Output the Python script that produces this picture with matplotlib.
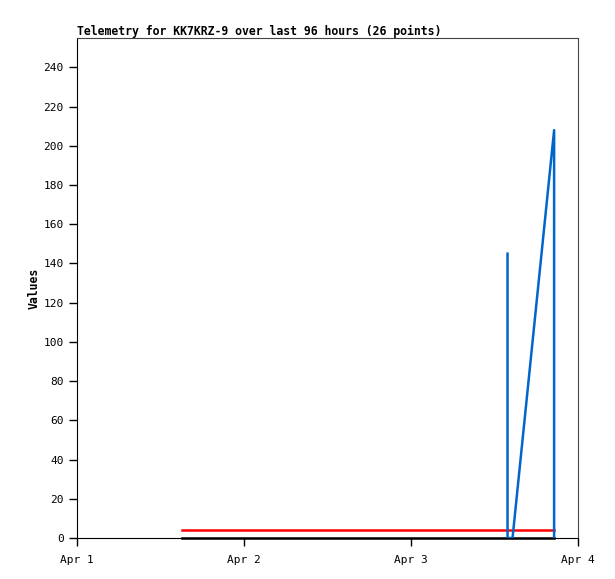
import numpy as np
import matplotlib.pyplot as plt

# days since Apr 1 00:00
black_t = [0.63, 2.857]
black_v = [0, 0]
red_t = [0.63, 2.857]
red_v = [4, 4]
blue_t = [2.578, 2.578, 2.608, 2.857, 2.857]
blue_v = [145, 0, 0, 208, 0]

day_ticks = [0, 1, 2, 3]
day_labels = ["Apr 1", "Apr 2", "Apr 3", "Apr 4"]

plt.rcParams['font.family'] = ['DejaVu Sans Mono']

fig = plt.figure(figsize=(6.15, 5.79), dpi=100)
ax = fig.add_axes([77/615, 41/579, 501/615, 500/579])

ax.plot(black_t, black_v, color='black', lw=1.8, clip_on=False, zorder=2)
ax.plot(red_t, red_v, color='#ff0000', lw=1.8, zorder=3)
ax.plot(blue_t, blue_v, color='#0066cc', lw=1.8, zorder=4)

ax.set_xlim(0, 3)
ax.set_ylim(0, 255)
ax.set_xticks(day_ticks)
ax.set_xticklabels(day_labels)
ax.set_yticks(np.arange(0, 241, 20))
ax.tick_params(direction='out', length=6, width=1, labelsize=8, colors='black')
ax.tick_params(axis='x', pad=6)

for s in ['top', 'right']:
    ax.spines[s].set_color('#444444')
ax.spines['left'].set_color('black')
ax.spines['bottom'].set_color('black')

ax.set_title("Telemetry for KK7KRZ-9 over last 96 hours (26 points)",
             loc='left', fontsize=8.3, fontweight='bold', pad=2)
ax.set_ylabel("Values", fontsize=8.3, fontweight='bold', labelpad=2)

fig.savefig("out.png", dpi=100)
